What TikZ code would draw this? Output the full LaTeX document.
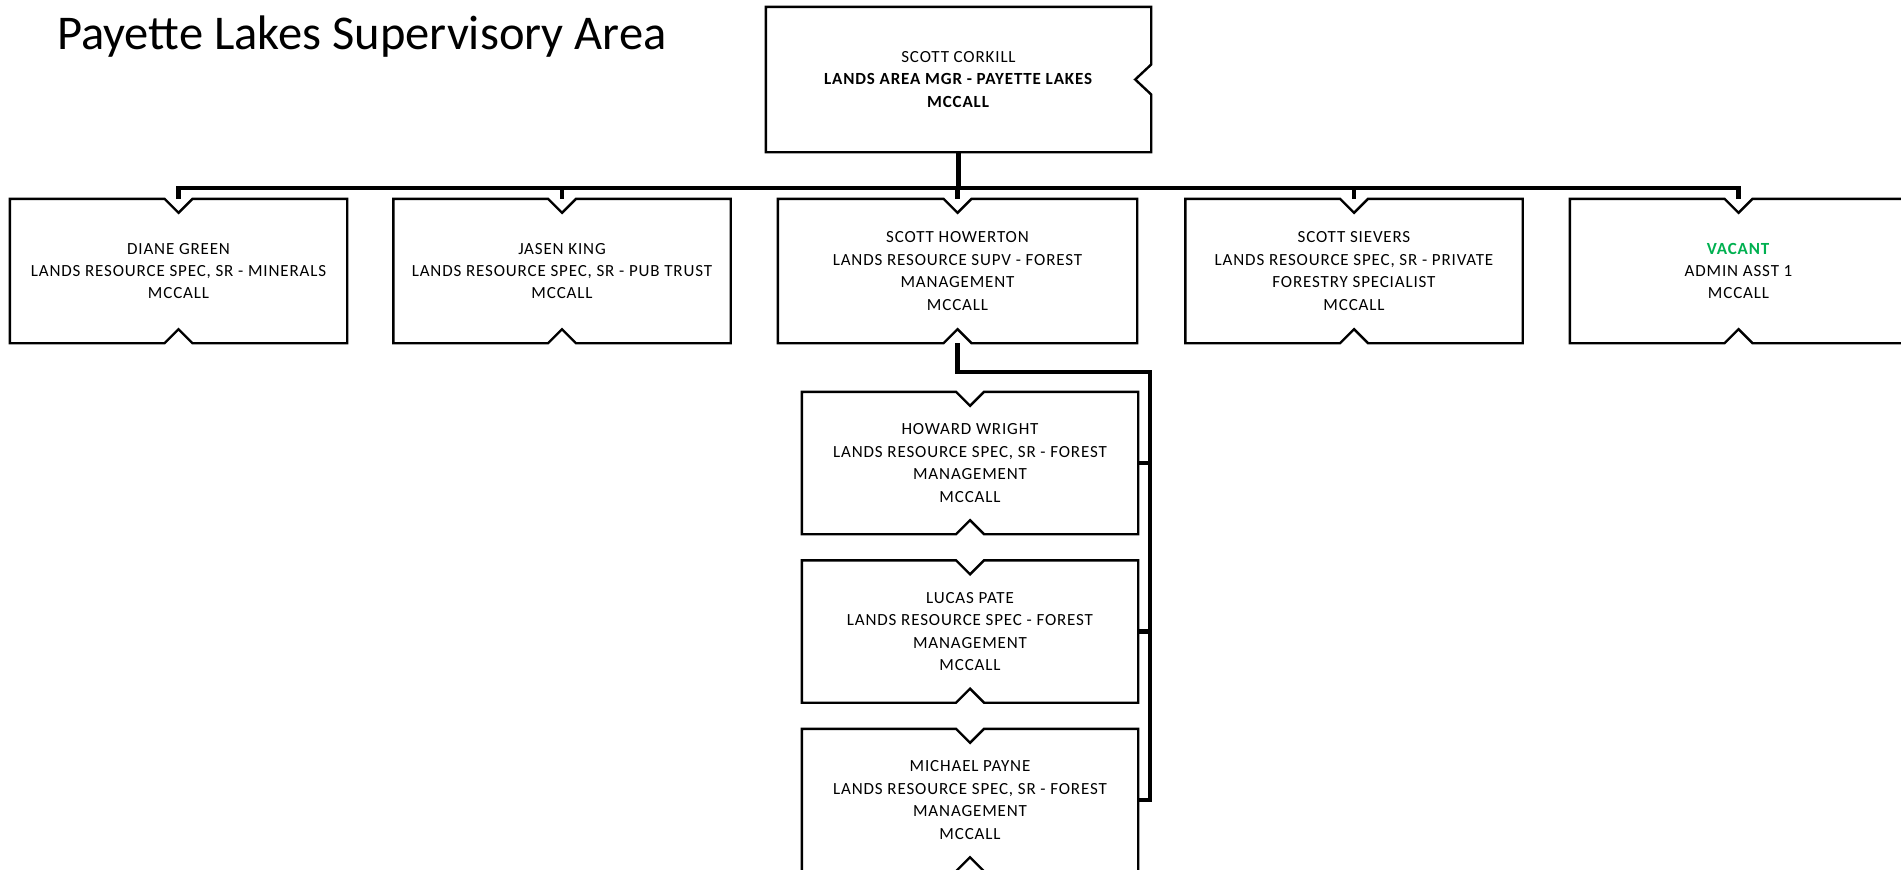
\documentclass[tikz,border=0pt]{standalone}
\usepackage{fontspec}
\setmainfont{Carlito}
\newfontfamily\boxfont[LetterSpace=5]{Carlito}
\usetikzlibrary{calc}
\definecolor{vacgreen}{RGB}{0,176,80}
\tikzset{
  boxtext/.style={rectangle, align=center, font=\boxfont\fontsize{17}{22.4}\selectfont, inner sep=0pt, minimum height=144pt},
  lvltwo/.style={boxtext, minimum width=337pt},
  lvlthree/.style={boxtext, minimum width=336pt, minimum height=142pt},
  outline/.style={draw=black, line width=2.4pt, line join=miter},
  conn/.style={draw=black, line width=4.5pt},
}
\newcommand\vnotchbox[1]{\draw[outline] (#1.north west) -- ($(#1.north)+(-14,0)$) -- ++(14,-14) -- ++(14,14) -- (#1.north east) -- (#1.south east) -- ($(#1.south)+(14,0)$) -- ++(-14,14) -- ++(-14,-14) -- (#1.south west) -- cycle;}
\begin{document}
\begin{tikzpicture}[x=1pt,y=1pt]
\useasboundingbox (0,0) rectangle (1901,-870);
% title
\node[anchor=base west, inner sep=0pt, font=\fontsize{48.5}{56}\selectfont] (title) at (57,-49) {Payette Lakes Supervisory Area};
% top box
\node[boxtext, minimum width=385pt, minimum height=145pt] (top) at (958.5,-79.5)
  {SCOTT CORKILL\\ \textbf{LANDS AREA MGR - PAYETTE LAKES}\\ \textbf{MCCALL}};
\draw[outline] (top.north west) -- (top.north east) -- ($(top.east)+(0,15)$) -- ++(-16,-15) -- ++(16,-15) -- (top.south east) -- (top.south west) -- cycle;
% level 2
\node[lvltwo] (dg) at (178.5,-271) {DIANE GREEN\\LANDS RESOURCE SPEC, SR - MINERALS\\MCCALL};
\node[lvltwo] (jk) at (562,-271) {JASEN KING\\LANDS RESOURCE SPEC, SR - PUB TRUST\\MCCALL};
\node[lvltwo, minimum width=359pt] (sh) at (957.5,-271) {SCOTT HOWERTON\\LANDS RESOURCE SUPV - FOREST\\MANAGEMENT\\MCCALL};
\node[lvltwo] (ss) at (1354,-271) {SCOTT SIEVERS\\LANDS RESOURCE SPEC, SR - PRIVATE\\FORESTRY SPECIALIST\\MCCALL};
\node[lvltwo] (va) at (1738.5,-271) {\textcolor{vacgreen}{\textbf{VACANT}}\\ADMIN ASST 1\\MCCALL};
% level 3
\node[lvlthree] (hw) at (970,-463) {HOWARD WRIGHT\\LANDS RESOURCE SPEC, SR - FOREST\\MANAGEMENT\\MCCALL};
\node[lvlthree] (lp) at (970,-631.5) {LUCAS PATE\\LANDS RESOURCE SPEC - FOREST\\MANAGEMENT\\MCCALL};
\node[lvlthree] (mp) at (970,-800) {MICHAEL PAYNE\\LANDS RESOURCE SPEC, SR - FOREST\\MANAGEMENT\\MCCALL};
% connectors
\coordinate (bus) at (0,-188);
\coordinate (sp) at (1150,-372);
\draw[conn] (top.south) -- (top.south |- bus);
\draw[conn] (dg.north) -- (dg.north |- bus) -- (va.north |- bus) -- (va.north);
\draw[conn] (jk.north) -- (jk.north |- bus);
\draw[conn] (sh.north) -- (sh.north |- bus);
\draw[conn] (ss.north) -- (ss.north |- bus);
\draw[conn] (sh.south) |- (sp) -- (sp |- mp.east) -- (mp.east);
\draw[conn] (hw.east) -- (hw.east -| sp);
\draw[conn] (lp.east) -- (lp.east -| sp);
% outlines
\vnotchbox{dg}
\vnotchbox{jk}
\vnotchbox{sh}
\vnotchbox{ss}
\vnotchbox{va}
\vnotchbox{hw}
\vnotchbox{lp}
\vnotchbox{mp}
\end{tikzpicture}
\end{document}
